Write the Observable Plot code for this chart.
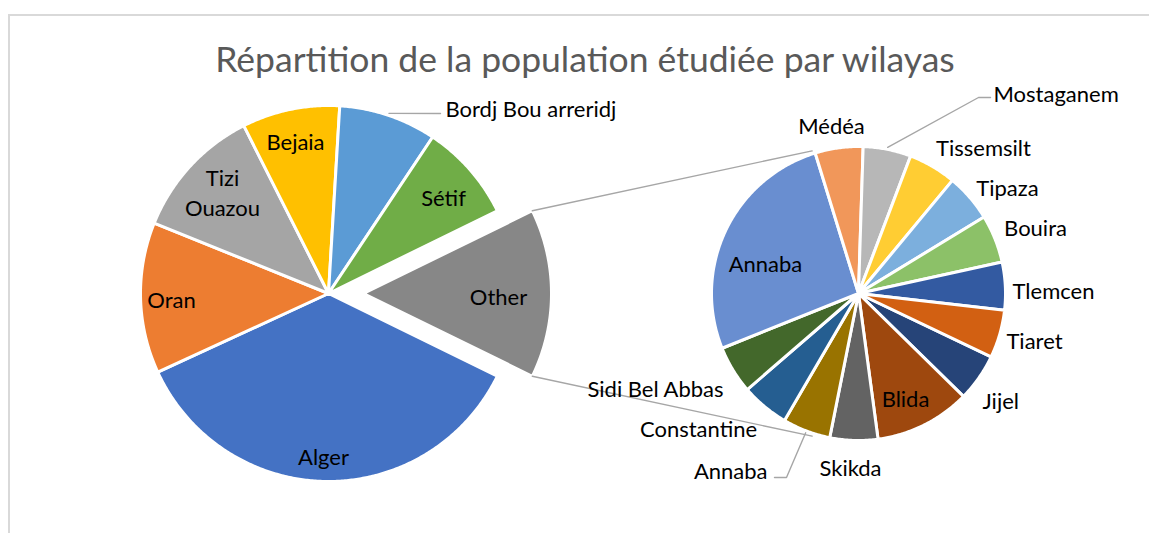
<!DOCTYPE html>
<html>
<head>
<meta charset="utf-8">
<script src="https://cdn.jsdelivr.net/npm/d3@7"></script>
<script src="https://cdn.jsdelivr.net/npm/@observablehq/plot@0.6"></script>
<style>
  html, body { margin: 0; padding: 0; background: #fff; overflow: hidden; }
  body { width: 1149px; height: 533px; position: relative; font-family: Lato, "Open Sans", sans-serif; }
  #frame { position: absolute; left: 8px; top: 14px; width: 1300px; height: 700px;
           border-left: 2px solid #d9d9d9; border-top: 2px solid #d9d9d9; box-sizing: border-box; }
  #title { position: absolute; left: 0; top: 39px; width: 1170px; text-align: center;
           font-family: Lato, sans-serif; font-size: 35.5px; line-height: 40px; color: #595959; white-space: nowrap; }
  #chart { position: absolute; left: 0; top: 78px; }
</style>
</head>
<body>
<div id="frame"></div>
<div id="title">Répartition de la population étudiée par wilayas</div>
<div id="chart"></div>
<script>
// ---------- data ----------
const mainLabels = ["Alger", "Oran", "Tizi Ouazou", "Bejaia", "Bordj Bou arreridj", "Sétif"];
const mainValues = [47, 17, 15, 11, 11, 11];
const otherLabel = "Other";
const subLabels = ["Jijel", "Blida", "Skikda", "Annaba", "Constantine", "Sidi Bel Abbas",
                   "Annaba", "Médéa", "Mostaganem", "Tissemsilt", "Tipaza", "Bouira", "Tlemcen", "Tiaret"];
const subValues = [1, 2, 1, 1, 1, 1, 5, 1, 1, 1, 1, 1, 1, 1];

// ---------- styles ----------
const mainColors = ["#4472C4", "#ED7D31", "#A5A5A5", "#FFC000", "#5B9BD5", "#70AD47"];
const otherColor = "#878787";
const subColors = ["#264478", "#9E480E", "#636363", "#997300", "#255E91", "#43682B",
                   "#698ED0", "#F1975A", "#B7B7B7", "#FFCD33", "#7CAFDD", "#8CC168", "#335AA1", "#D26012"];

// ---------- layout ----------
const W = 1149, TOP = 78, H = 533 - TOP;
const P1 = {cx: 328, cy: 293, r: 188, explode: 35};
const P2 = {cx: 858, cy: 293, r: 147, start: 115.5};
const connectorAngles = [342, 198];
// label anchors (page coords) for main pie (6 + Other) and sub pie (14)
const mainLabelPos = [[323, 455, "middle"], [171, 298, "middle"], [222, 191, "middle"], [295, 140, "middle"],
                      [445, 107, "start"], [443, 196, "middle"], [498, 295, "middle"]];
const subLabelPos = [[982, 399, "start"], [905, 397, "middle"], [850, 466, "middle"], [767, 469, "end"],
                     [698, 427, "middle"], [655, 387, "middle"], [765, 262, "middle"], [831, 124, "middle"],
                     [993, 92, "start"], [983, 146, "middle"], [1007, 186, "middle"], [1035, 226, "middle"],
                     [1053, 289, "middle"], [1034, 339, "middle"]];

// ---------- geometry ----------
const rad = d => d * Math.PI / 180;
const polar = (cx, cy, r, a) => ({x: cx + r * Math.sin(a), y: cy - r * Math.cos(a)});

const otherTotal = d3.sum(subValues);
const mainAll = [...mainValues, otherTotal];
const total1 = d3.sum(mainAll);
const otherSpan = otherTotal / total1 * 2 * Math.PI;
const start1 = Math.PI / 2 + otherSpan / 2;
const arcs1 = d3.pie().sort(null).startAngle(start1).endAngle(start1 + 2 * Math.PI)(mainAll);
const arcs2 = d3.pie().sort(null).startAngle(rad(P2.start)).endAngle(rad(P2.start) + 2 * Math.PI)(subValues);

const slicePts = [];
function addSlice(id, color, cx, cy, r, a0, a1) {
  slicePts.push({id, color, x: cx, y: cy});
  const n = Math.max(2, Math.ceil((a1 - a0) / rad(0.5)));
  for (let i = 0; i <= n; i++) {
    const p = polar(cx, cy, r, a0 + (a1 - a0) * i / n);
    slicePts.push({id, color, ...p});
  }
  slicePts.push({id, color, x: cx, y: cy});
}
arcs1.forEach((a, i) => {
  const isOther = i === mainAll.length - 1;
  const mid = (a.startAngle + a.endAngle) / 2;
  const c = isOther ? polar(P1.cx, P1.cy, P1.explode, mid) : {x: P1.cx, y: P1.cy};
  addSlice("m" + i, isOther ? otherColor : mainColors[i], c.x, c.y, P1.r, a.startAngle, a.endAngle);
});
arcs2.forEach((a, i) => addSlice("s" + i, subColors[i], P2.cx, P2.cy, P2.r, a.startAngle, a.endAngle));

// connector lines (Other slice corners -> secondary pie)
const oArc = arcs1[arcs1.length - 1];
const oc = polar(P1.cx, P1.cy, P1.explode, (oArc.startAngle + oArc.endAngle) / 2);
const linePts = [];
const c1 = polar(oc.x, oc.y, P1.r, oArc.startAngle), c2 = polar(oc.x, oc.y, P1.r, oArc.endAngle);
const e1 = polar(P2.cx, P2.cy, P2.r + 3, rad(connectorAngles[0])), e2 = polar(P2.cx, P2.cy, P2.r + 3, rad(connectorAngles[1]));
linePts.push({id: "c1", ...c1}, {id: "c1", ...e1}, {id: "c2", ...c2}, {id: "c2", ...e2});

// leader lines for outside labels
function leader(id, cx, cy, r, arc, bends) {
  const mid = (arc.startAngle + arc.endAngle) / 2;
  linePts.push({id, ...polar(cx, cy, r + 2, mid)});
  bends.forEach(([x, y]) => linePts.push({id, x, y}));
}
leader("lb", P1.cx, P1.cy, P1.r, arcs1[4], [[440, 113]]);
leader("lm", P2.cx, P2.cy, P2.r, arcs2[8], [[978, 97], [990, 97]]);
leader("la", P2.cx, P2.cy, P2.r, arcs2[3], [[786, 477], [774, 477]]);

// labels
const labels = [
  ...mainAll.map((v, i) => {
    const name = i < mainLabels.length ? mainLabels[i] : otherLabel;
    const [x, y, anchor] = mainLabelPos[i];
    return {text: name === "Tizi Ouazou" ? "Tizi\nOuazou" : name, x, y, anchor};
  }),
  ...subValues.map((v, i) => {
    const [x, y, anchor] = subLabelPos[i];
    return {text: subLabels[i], x, y, anchor};
  })
];

const font = "Lato, 'Open Sans', sans-serif";
const plot = Plot.plot({
  width: W, height: H, margin: 0,
  style: {fontFamily: font, background: "transparent"},
  x: {domain: [0, W], axis: null},
  y: {domain: [533, TOP], axis: null},
  color: {type: "identity"},
  marks: [
    Plot.line(slicePts, {x: "x", y: "y", z: "id", fill: "color", stroke: "#ffffff", strokeWidth: 3,
                         strokeLinejoin: "round", curve: "linear"}),
    Plot.line(linePts, {x: "x", y: "y", z: "id", stroke: "#a6a6a6", strokeWidth: 1.4, curve: "linear"}),
    ...["start", "middle", "end"].map(anc =>
      Plot.text(labels.filter(d => d.anchor === anc), {x: "x", y: "y", text: "text", textAnchor: anc,
        fontSize: 22, fill: "#000000", lineHeight: 1.35, fontFamily: font}))
  ]
});
document.getElementById("chart").appendChild(plot);
</script>
</body>
</html>
